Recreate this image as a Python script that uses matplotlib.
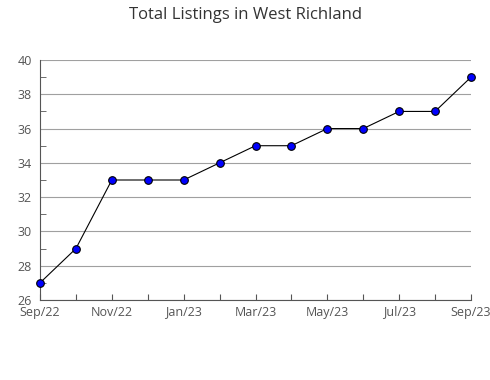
import matplotlib
matplotlib.use("Agg")
import matplotlib.pyplot as plt
from matplotlib.ticker import MultipleLocator

# monthly values, Sep/22 .. Sep/23
months = ["Sep/22", "Oct/22", "Nov/22", "Dec/22", "Jan/23", "Feb/23", "Mar/23",
          "Apr/23", "May/23", "Jun/23", "Jul/23", "Aug/23", "Sep/23"]
listings = [27, 29, 33, 33, 33, 34, 35, 35, 36, 36, 37, 37, 39]

plt.rcParams["font.family"] = ["Open Sans", "DejaVu Sans"]

fig = plt.figure(figsize=(4.9, 3.8), dpi=100)
ax = fig.add_axes([40 / 490, 80 / 380, 431 / 490, 240 / 380])

x = list(range(len(months)))
ax.plot(x, listings, color="black", lw=0.8, marker="o", ms=5.5,
        mfc="#0000ff", mec="black", mew=0.8, zorder=3, clip_on=False)

ax.set_xlim(0, len(months) - 1)
ax.set_ylim(26, 40)
ax.set_xticks(x)
ax.set_xticklabels([m if i % 2 == 0 else "" for i, m in enumerate(months)])
ax.yaxis.set_major_locator(MultipleLocator(2))
ax.yaxis.set_minor_locator(MultipleLocator(1))
ax.grid(axis="y", which="major", color="#a0a0a0", lw=0.8)
ax.set_axisbelow(True)

for s in ("top", "right"):
    ax.spines[s].set_visible(False)
for s in ("left", "bottom"):
    ax.spines[s].set_color("#555555")
    ax.spines[s].set_linewidth(0.8)

ax.tick_params(axis="both", which="both", direction="in", color="#555555",
               labelcolor="#555555", labelsize=9, pad=2)
ax.tick_params(axis="y", which="major", length=0, pad=6)
ax.tick_params(axis="y", which="minor", length=4)
ax.tick_params(axis="x", length=4, pad=4)

fig.text(0.5, 1 - 15 / 380, "Total Listings in West Richland", ha="center",
         va="center", fontsize=12, color="#333333")

fig.savefig("out.png", dpi=100)
